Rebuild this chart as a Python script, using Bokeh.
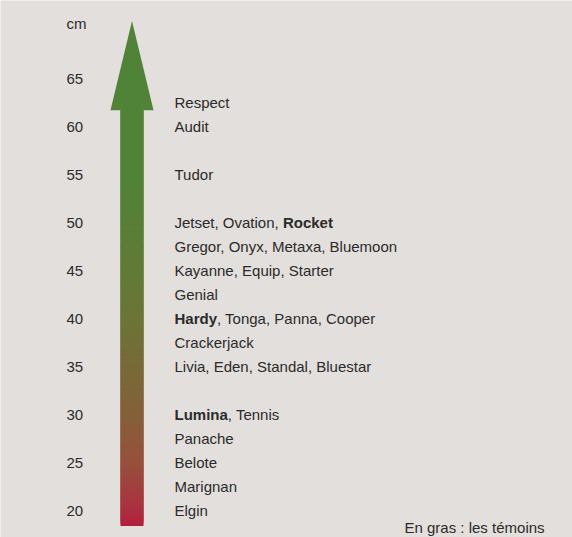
from bokeh.plotting import figure
from bokeh.models import Range1d, ColumnDataSource
from bokeh.core.properties import value
from bokeh.embed import file_html
from bokeh.resources import INLINE

# ---------------- data ----------------
tick_values = [20, 25, 30, 35, 40, 45, 50, 55, 60, 65]
tick_labels = ["20", "25", "30", "35", "40", "45", "50", "55", "60", "65"]
unit_label = "cm"
unit_pos = 70.7

heights = [62.5, 60, 55, 50, 47.5, 45, 42.5, 40, 37.5, 35, 30, 27.5, 25, 22.5, 20]
varieties = [
    ["Respect"],
    ["Audit"],
    ["Tudor"],
    ["Jetset", "Ovation", "Rocket"],
    ["Gregor", "Onyx", "Metaxa", "Bluemoon"],
    ["Kayanne", "Equip", "Starter"],
    ["Genial"],
    ["Hardy", "Tonga", "Panna", "Cooper"],
    ["Crackerjack"],
    ["Livia", "Eden", "Standal", "Bluestar"],
    ["Lumina", "Tennis"],
    ["Panache"],
    ["Belote"],
    ["Marignan"],
    ["Elgin"],
]
temoins = ["Rocket", "Hardy", "Lumina"]
note = "En gras : les témoins"

arrow_bottom = 18.4
arrow_head_base = 61.7
arrow_tip = 71.0

# gradient stops (value, colour)
grad_stops = [
    (17.0, (178, 30, 61)),
    (18.4, (178, 30, 61)),
    (20.0, (171, 47, 62)),
    (25.0, (151, 80, 60)),
    (30.0, (132, 96, 57)),
    (40.0, (108, 116, 55)),
    (45.0, (97, 123, 55)),
    (55.0, (80, 131, 55)),
    (74.0, (79, 130, 55)),
]

# ---------------- style ----------------
BG = "#e3dfdc"
TXT = "#2b2b2b"
FONT = "Liberation Sans"
FSN = 15.0
FS = "15px"
TICK_FS = "15px"

# Arial / Liberation Sans metrics (per 1000 em)
REG = dict(zip(" ,abcdefghijklmnopqrstuvwxyzABCDEFGHIJKLMNOPQRSTUVWXYZ",
               [278, 278, 556, 556, 500, 556, 556, 278, 556, 556, 222, 222, 500, 222, 833,
                556, 556, 556, 556, 333, 500, 278, 556, 500, 722, 500, 500, 500,
                667, 667, 722, 722, 667, 611, 778, 722, 278, 500, 667, 556, 833, 722,
                778, 667, 778, 722, 667, 611, 722, 667, 944, 667, 667, 611]))
BOLD = dict(zip(" ,acdeiklmnortuyHLR",
                [278, 278, 556, 556, 611, 556, 278, 556, 278, 889, 611, 611, 389, 333,
                 611, 556, 722, 611, 722]))


def text_width(s, bold, size=FSN):
    table = BOLD if bold else REG
    return sum(table.get(c, 556) for c in s) / 1000.0 * size


# ---------------- figure ----------------
W, H = 572, 537
p = figure(width=W, height=H, output_backend="svg", toolbar_location=None,
           x_range=Range1d(0, W), y_range=Range1d(17.19, 73.125),
           x_axis_type=None, y_axis_type=None,
           min_border_left=0, min_border_right=0, min_border_top=0, min_border_bottom=0,
           background_fill_color=BG, border_fill_color=BG, outline_line_color=None)
p.grid.visible = False


def colour_at(v):
    for (v0, c0), (v1, c1) in zip(grad_stops[:-1], grad_stops[1:]):
        if v0 <= v <= v1:
            t = (v - v0) / (v1 - v0)
            return "#%02x%02x%02x" % tuple(int(round(a + (b - a) * t)) for a, b in zip(c0, c1))
    return "#%02x%02x%02x" % grad_stops[-1][1]


# arrow shaft with gradient (overlapping slices to avoid seams)
n = 160
step = (arrow_head_base - arrow_bottom) / n
bots = [arrow_bottom + i * step for i in range(n)]
tops = [min(b + step * 2.5, arrow_head_base + 0.3) for b in bots]
cols = [colour_at(b + step / 2) for b in bots]
p.quad(left=120, right=143, bottom=bots, top=tops, fill_color=cols, line_color=None)
p.patch([110, 153, 131.5], [arrow_head_base, arrow_head_base, arrow_tip],
        fill_color=colour_at(arrow_head_base), line_color=None)

# tick labels
p.text(x=[66] * (len(tick_values) + 1), y=tick_values + [unit_pos],
       text=tick_labels + [unit_label], text_font=value(FONT), text_font_size=TICK_FS,
       text_color=TXT, text_align="left", text_baseline="middle")

# variety labels
norm = dict(x=[], y=[], text=[], xo=[])
bold = dict(x=[], y=[], text=[], xo=[])
for h, names in zip(heights, varieties):
    segs = []
    for i, name in enumerate(names):
        last = i == len(names) - 1
        if name in temoins:
            segs.append((name, True))
            if not last:
                segs.append((", ", False))
        else:
            segs.append((name + ("" if last else ", "), False))
    merged = []
    for s, b in segs:
        if merged and merged[-1][1] == b:
            merged[-1] = (merged[-1][0] + s, b)
        else:
            merged.append((s, b))
    off = 0.0
    for s, b in merged:
        d = bold if b else norm
        d["x"].append(174)
        d["y"].append(h)
        d["text"].append(s)
        d["xo"].append(off)
        off += text_width(s, b)

p.text(x="x", y="y", text="text", x_offset="xo", source=ColumnDataSource(norm),
       text_font=value(FONT), text_font_size=FS, text_color=TXT,
       text_align="left", text_baseline="middle")
p.text(x="x", y="y", text="text", x_offset="xo", source=ColumnDataSource(bold),
       text_font=value(FONT), text_font_size=FS, text_font_style="bold", text_color=TXT,
       text_align="left", text_baseline="middle")

p.text(x=[404], y=[18.23], text=[note], text_font=value(FONT), text_font_size=FS,
       text_color=TXT, text_align="left", text_baseline="middle")

open("out.html", "w").write(file_html(p, INLINE))
